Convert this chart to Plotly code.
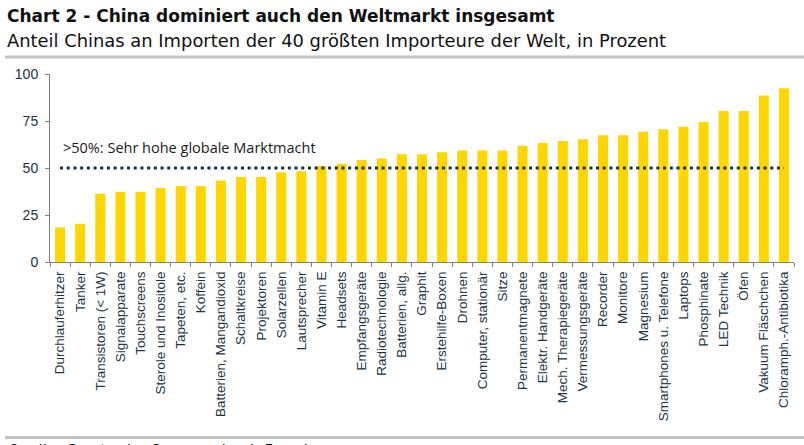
import plotly.graph_objects as go

categories = [
    "Durchlauferhitzer", "Tanker", "Transistoren (< 1W)", "Signalapparate", "Touchscreens",
    "Sterole und Inositole", "Tapeten, etc.", "Koffein", "Batterien, Mangandioxid", "Schaltkreise",
    "Projektoren", "Solarzellen", "Lautsprecher", "Vitamin E", "Headsets",
    "Empfangsgeräte", "Radiotechnologie", "Batterien, allg.", "Graphit", "Erstehilfe-Boxen",
    "Drohnen", "Computer, stationär", "Sitze", "Permanentmagnete", "Elektr. Handgeräte",
    "Mech. Therapiegeräte", "Vermessungsgeräte", "Recorder", "Monitore", "Magnesium",
    "Smartphones u. Telefone", "Laptops", "Phosphinate", "LED Technik", "Öfen",
    "Vakuum Fläschchen", "Chloramph.-Antibiotika",
]
values = [
    18.4, 20.3, 36.3, 37.3, 37.3,
    39.4, 40.4, 40.4, 43.3, 45.2,
    45.2, 47.8, 48.3, 51.1, 52.2,
    54.3, 55.0, 57.3, 57.3, 58.4,
    59.3, 59.3, 59.3, 61.9, 63.3,
    64.4, 65.3, 67.4, 67.4, 69.3,
    70.6, 71.9, 74.5, 80.3, 80.3,
    88.5, 92.4,
]
threshold = 50
y_ticks = [0, 25, 50, 75, 100]

title = "Chart 2 - China dominiert auch den Weltmarkt insgesamt"
subtitle = "Anteil Chinas an Importen der 40 größten Importeure der Welt, in Prozent"
note = ">50%: Sehr hohe globale Marktmacht"
source = "Quelle: Comtrade, Commerzbank-Forschung"

W, H = 804, 445
ML, MR, MT, MB = 50, 10, 74, 183
PW = W - ML - MR
PH = H - MT - MB

def px_x(px):
    return (px - ML) / PW

def px_y(py):
    return (H - MB - py) / PH

label_color = "#1b3442"

fig = go.Figure()
fig.add_trace(go.Bar(
    x=categories, y=values,
    marker=dict(color="#FFD600", line=dict(width=0)),
    hoverinfo="x+y",
))

fig.add_shape(type="line", xref="x", yref="y",
              x0=categories[0], x1=categories[-1], y0=threshold, y1=threshold,
              line=dict(color="#0e3442", width=3, dash="3px,3.7px"))

fig.add_shape(type="line", xref="paper", yref="paper",
              x0=px_x(5), x1=px_x(806), y0=px_y(57), y1=px_y(57),
              line=dict(color="#c3c3c3", width=3))
fig.add_shape(type="line", xref="paper", yref="paper",
              x0=px_x(5), x1=px_x(806), y0=px_y(437.5), y1=px_y(437.5),
              line=dict(color="#c3c3c3", width=3))

annos = [
    dict(text="<b>" + title + "</b>", x=px_x(5), y=px_y(15.5), size=17, color="#111111",
         family="DejaVu Sans, sans-serif"),
    dict(text=subtitle, x=px_x(5), y=px_y(40.5), size=17.9, color="#111111",
         family="DejaVu Sans, sans-serif"),
    dict(text=note, x=px_x(61), y=px_y(147), size=14.5, color="#1a1a1a",
         family="Open Sans, sans-serif"),
    dict(text=source, x=px_x(6), y=px_y(451), size=15, color="#111111",
         family="DejaVu Sans, sans-serif"),
]
for a in annos:
    fig.add_annotation(text=a["text"], xref="paper", yref="paper", x=a["x"], y=a["y"],
                       xanchor="left", yanchor="middle", showarrow=False,
                       font=dict(family=a["family"], size=a["size"], color=a["color"]))

fig.update_layout(
    width=W, height=H,
    margin=dict(l=ML, r=MR, t=MT, b=MB, pad=0),
    plot_bgcolor="white", paper_bgcolor="white",
    bargap=0.5, showlegend=False,
    xaxis=dict(
        type="category", tickangle=-90, tickson="boundaries",
        ticks="outside", ticklen=4, tickcolor="#808080", tickwidth=1,
        showline=True, linecolor="#808080", linewidth=1,
        showgrid=False, zeroline=False, automargin=False,
        tickfont=dict(family="Liberation Sans, Arial, sans-serif", size=13.5, color=label_color),
        ticklabelstandoff=3,
    ),
    yaxis=dict(
        range=[0, 100], tickvals=y_ticks, ticktext=[str(v) for v in y_ticks],
        ticks="outside", ticklen=4, tickcolor="#808080", tickwidth=1,
        showline=True, linecolor="#808080", linewidth=1,
        showgrid=False, zeroline=False, automargin=False,
        tickfont=dict(family="Liberation Sans, Arial, sans-serif", size=14, color=label_color),
        ticklabelstandoff=4,
    ),
)

fig.write_html("out.html", config={"displayModeBar": False},
               post_script="document.body.style.margin='0';document.body.style.overflow='hidden';")
